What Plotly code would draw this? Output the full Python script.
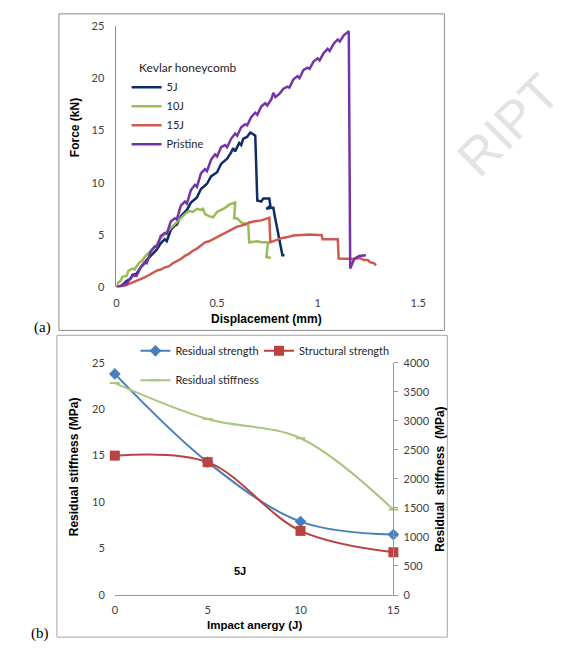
import plotly.graph_objects as go

# ---------------- (a) Force-displacement data ----------------
j5_x = [0, 0.02, 0.04, 0.05, 0.07, 0.08, 0.10, 0.12, 0.14, 0.15, 0.17, 0.19, 0.20, 0.22, 0.24, 0.25,
        0.27, 0.29, 0.30, 0.32, 0.34, 0.35, 0.37, 0.39, 0.40, 0.42, 0.44, 0.45, 0.47, 0.49, 0.50, 0.52,
        0.54, 0.55, 0.57, 0.58, 0.59, 0.61, 0.62, 0.63, 0.65, 0.665, 0.675, 0.69, 0.70, 0.72, 0.73, 0.76,
        0.765, 0.745, 0.77, 0.78, 0.785, 0.825, 0.835]
j5_y = [0, 0.1, 0.4, 0.6, 0.8, 1.2, 1.3, 1.9, 2.3, 2.6, 3.0, 3.4, 3.6, 4.2, 4.6, 4.4,
        5.5, 5.9, 6.0, 6.8, 7.2, 7.4, 8.1, 8.5, 8.6, 9.4, 9.7, 9.9, 10.6, 10.9, 11.0, 11.8,
        12.1, 12.3, 12.9, 13.3, 13.0, 13.8, 13.6, 14.2, 14.4, 14.8, 14.7, 14.5, 8.3, 8.2, 8.5, 8.5,
        7.8, 7.5, 7.6, 7.6, 7.0, 3.06, 3.06]

j10_x = [0, 0.01, 0.02, 0.03, 0.05, 0.06, 0.08, 0.09, 0.11, 0.13, 0.14, 0.16, 0.18, 0.20, 0.22, 0.24,
         0.26, 0.28, 0.30, 0.32, 0.34, 0.36, 0.38, 0.40, 0.42, 0.43, 0.44, 0.46, 0.48, 0.50, 0.52, 0.54,
         0.56, 0.575, 0.59, 0.585, 0.60, 0.62, 0.64, 0.655, 0.66, 0.70, 0.72, 0.753, 0.745, 0.768]
j10_y = [0, 0.5, 0.6, 1.0, 1.1, 1.6, 1.8, 1.7, 2.3, 2.6, 2.9, 3.3, 3.7, 4.1, 4.7, 5.1,
         5.5, 5.9, 6.3, 6.6, 7.0, 7.3, 7.2, 7.5, 7.4, 7.5, 7.0, 6.8, 6.7, 7.2, 7.4, 7.6,
         7.9, 8.0, 8.1, 6.6, 6.6, 6.2, 6.1, 6.0, 4.3, 4.4, 4.3, 4.3, 2.9, 2.8]

j15_x = [0, 0.02, 0.04, 0.06, 0.08, 0.10, 0.12, 0.14, 0.16, 0.18, 0.20, 0.22, 0.24, 0.26, 0.28, 0.30,
         0.32, 0.34, 0.36, 0.38, 0.40, 0.42, 0.44, 0.46, 0.48, 0.50, 0.52, 0.54, 0.56, 0.58, 0.60, 0.62,
         0.64, 0.66, 0.68, 0.70, 0.72, 0.74, 0.76, 0.765, 0.79, 0.82, 0.85, 0.88, 0.92, 0.96, 1.00, 1.02,
         1.025, 1.06, 1.10, 1.105, 1.14, 1.18, 1.21, 1.23, 1.25, 1.26, 1.28, 1.29]
j15_y = [0, 0.05, 0.15, 0.3, 0.45, 0.6, 0.8, 0.95, 1.15, 1.35, 1.6, 1.7, 1.9, 2.0, 2.3, 2.5,
         2.7, 3.0, 3.2, 3.5, 3.7, 4.0, 4.3, 4.4, 4.6, 4.8, 5.0, 5.2, 5.4, 5.6, 5.8, 5.9,
         6.0, 6.2, 6.3, 6.35, 6.4, 6.5, 6.65, 4.3, 4.5, 4.7, 4.8, 4.95, 5.0, 5.05, 5.0, 5.0,
         4.6, 4.6, 4.6, 2.75, 2.75, 2.7, 2.8, 2.6, 2.6, 2.4, 2.3, 2.1]

pr_x = [0, 0.02, 0.04, 0.05, 0.07, 0.09, 0.10, 0.12, 0.14, 0.15, 0.17, 0.19, 0.20, 0.22, 0.24, 0.25,
        0.27, 0.29, 0.30, 0.32, 0.34, 0.35, 0.37, 0.39, 0.40, 0.42, 0.44, 0.45, 0.47, 0.49, 0.50, 0.52,
        0.54, 0.55, 0.57, 0.59, 0.60, 0.62, 0.64, 0.65, 0.67, 0.69, 0.70, 0.72, 0.74, 0.75, 0.77, 0.78,
        0.79, 0.81, 0.83, 0.85, 0.86, 0.88, 0.90, 0.91, 0.93, 0.95, 0.96, 0.98, 1.00, 1.01, 1.03, 1.05,
        1.06, 1.08, 1.10, 1.11, 1.13, 1.155, 1.162, 1.183, 1.207, 1.24]
pr_y = [0, 0.1, 0.35, 0.3, 0.9, 1.2, 1.1, 1.9, 2.4, 2.3, 3.4, 3.9, 3.8, 4.9, 5.2, 5.1,
        6.3, 6.6, 6.5, 7.8, 8.2, 8.0, 9.3, 9.8, 9.6, 10.9, 11.3, 11.1, 12.2, 12.7, 12.5, 13.4,
        13.6, 13.4, 14.2, 14.7, 14.5, 15.3, 15.6, 15.5, 16.3, 16.7, 16.5, 17.3, 17.6, 17.4, 18.0, 18.6,
        18.2, 18.5, 19.0, 19.2, 19.1, 19.9, 20.2, 20.0, 20.8, 21.0, 20.9, 21.6, 21.9, 21.7, 22.4, 22.8,
        22.6, 23.3, 23.7, 23.5, 24.1, 24.5, 1.8, 2.75, 3.0, 3.06]

force_ticks = [0, 5, 10, 15, 20, 25]
disp_ticks = [0, 0.5, 1, 1.5]
disp_labels = ["0", "0.5", "1", "1.5"]

# ---------------- (b) Residual properties ----------------
energy = [0, 5, 10, 15]
residual_strength = [23.8, 14.3, 7.9, 6.5]
structural_strength = [15.0, 14.3, 6.9, 4.6]
residual_stiffness = [3650, 3030, 2700, 1470]
left_ticks = [0, 5, 10, 15, 20, 25]
right_ticks = [0, 500, 1000, 1500, 2000, 2500, 3000, 3500, 4000]
energy_ticks = [0, 5, 10, 15]

W, H = 574, 650
def px(x):
    return x / W
def py(y):
    return (H - y) / H

LF = "Lato, 'Open Sans', sans-serif"
BF = "'Liberation Sans', Arial, sans-serif"
TICK = dict(family=LF, size=11, color="#404040")

fig = go.Figure()

top_series = [("5J", j5_x, j5_y, "#0F2C6A"), ("10J", j10_x, j10_y, "#9BBB59"),
              ("15J", j15_x, j15_y, "#CD5A50"), ("Pristine", pr_x, pr_y, "#7433A6")]
for name, xs, ys, col in top_series:
    fig.add_trace(go.Scatter(x=xs, y=ys, mode="lines", name=name, line=dict(color=col, width=2.5),
                             xaxis="x", yaxis="y", legend="legend", cliponaxis=False))

fig.add_trace(go.Scatter(x=energy, y=residual_strength, mode="lines+markers", name="Residual strength",
                         line=dict(color="#4A7EBB", width=2, shape="spline"),
                         marker=dict(symbol="diamond", size=9, color="#4A7EBB"),
                         xaxis="x2", yaxis="y2", legend="legend2", cliponaxis=False))
fig.add_trace(go.Scatter(x=energy, y=structural_strength, mode="lines+markers", name="Structural strength",
                         line=dict(color="#B8433F", width=2, shape="spline"),
                         marker=dict(symbol="square", size=10, color="#B8433F"),
                         xaxis="x2", yaxis="y2", legend="legend4", cliponaxis=False))
fig.add_trace(go.Scatter(x=energy, y=residual_stiffness, mode="lines+markers", name="Residual stiffness",
                         line=dict(color="#A9C47F", width=2, shape="spline"),
                         marker=dict(symbol="line-ew", size=7, line=dict(color="#A9C47F", width=2)),
                         xaxis="x2", yaxis="y3", legend="legend3", cliponaxis=False))

axis_common = dict(showgrid=False, zeroline=False, ticks="", tickfont=TICK)
LEGFONT = dict(family=LF, size=11, color="#262626")

def leg(x, y):
    return dict(x=px(x), y=py(y), xanchor="left", yanchor="top", bgcolor="rgba(0,0,0,0)",
                font=LEGFONT, tracegroupgap=0, itemwidth=30)

fig.update_layout(
    width=W, height=H, margin=dict(l=0, r=0, t=0, b=0),
    paper_bgcolor="white", plot_bgcolor="rgba(0,0,0,0)",
    xaxis=dict(domain=[px(115.7), px(423.3)], range=[0, 1.5], tickvals=disp_ticks, ticktext=disp_labels,
               showline=False, anchor="y", ticklabelstandoff=8, **axis_common),
    yaxis=dict(domain=[py(286), py(19.3)], range=[0, 25], tickvals=force_ticks, showline=True,
               linecolor="#8C8C8C", linewidth=1, anchor="x", ticklabelstandoff=9, **axis_common),
    xaxis2=dict(domain=[px(114), px(398)], range=[0, 15], tickvals=energy_ticks, showline=True,
                linecolor="#9A9A9A", linewidth=1, anchor="y2", ticklabelstandoff=5, **axis_common),
    yaxis2=dict(domain=[py(600), py(363)], range=[0, 25], tickvals=left_ticks, showline=False,
                anchor="x2", ticklabelstandoff=9, **axis_common),
    yaxis3=dict(overlaying="y2", side="right", range=[0, 4000], tickvals=right_ticks, showline=True,
                linecolor="#9A9A9A", linewidth=1, anchor="x2", showgrid=False, zeroline=False,
                ticks="outside", ticklen=4, tickcolor="#9A9A9A", tickfont=TICK, ticklabelstandoff=3),
    legend=leg(126, 67),
    legend2=leg(135, 336),
    legend4=leg(261, 336),
    legend3=leg(135, 366),
)

shapes = [
    dict(type="rect", xref="paper", yref="paper", x0=px(57), x1=px(450), y0=py(330), y1=py(7),
         line=dict(color="#8C8C8C", width=1), layer="below"),
    dict(type="rect", xref="paper", yref="paper", x0=px(55), x1=px(453), y0=py(643), y1=py(335),
         line=dict(color="#A6A6A6", width=1), layer="below"),
]
fig.update_layout(shapes=shapes)

def ann(text, x, y, size=12, bold=True, angle=0, family=BF, color="#000000", xanchor="center"):
    return dict(text=(f"<b>{text}</b>" if bold else text), x=px(x), y=py(y), xref="paper", yref="paper",
                showarrow=False, textangle=angle, font=dict(family=family, size=size, color=color),
                xanchor=xanchor, yanchor="middle")

annotations = [
    ann("RIPT", 515, 120, 52, bold=False, angle=-45, color="#E3E3E3"),
    ann("Kevlar honeycomb", 137, 62, 12, bold=False, family=LF, color="#262626", xanchor="left"),
    ann("Force (kN)", 73, 123, 12, angle=-90),
    ann("Displacement (mm)", 269, 318, 12),
    ann("Residual stiffness (MPa)", 72, 469, 12, angle=-90),
    ann("Residual  stiffness  (MPa)", 446, 482, 12, angle=-90),
    ann("Impact anergy (J)", 256, 631, 11.5),
    ann("5J", 242, 576, 11),
    ann("(a)", 40, 327, 15, bold=False, family="'Liberation Serif', 'Times New Roman', serif"),
    ann("(b)", 38, 639, 15, bold=False, family="'Liberation Serif', 'Times New Roman', serif"),
]
fig.update_layout(annotations=annotations)

fig.write_html("out.html")
